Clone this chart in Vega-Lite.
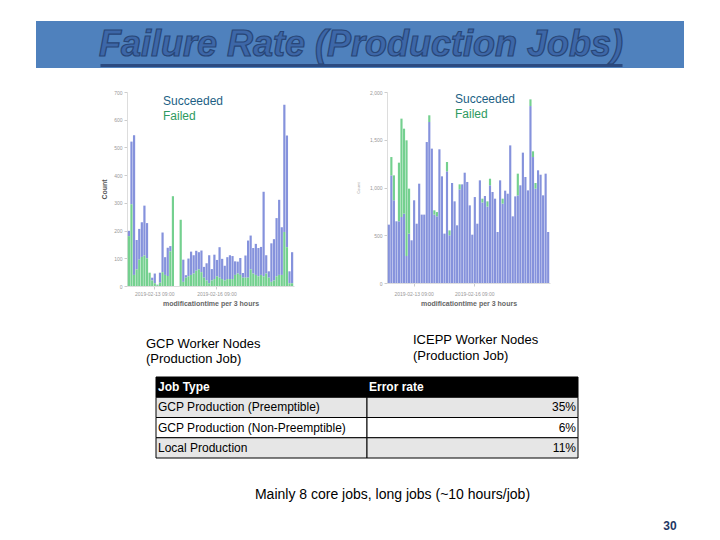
{
  "$schema": "https://vega.github.io/schema/vega-lite/v6.json",
  "background": "white",
  "padding": {"left": 36, "top": 21, "right": 0, "bottom": 0},
  "config": {
    "view": {"stroke": null},
    "font": "Liberation Sans",
    "title": {"font": "Liberation Sans", "fontWeight": "normal", "color": "black"},
    "axis": {"labelFont": "Liberation Sans", "titleFont": "Liberation Sans"}
  },
  "datasets": {
    "gcp": [
      {"time": "2019-02-12 03:00", "Succeeded": 19, "Failed": 180},
      {"time": "2019-02-12 06:00", "Succeeded": 226, "Failed": 295},
      {"time": "2019-02-12 09:00", "Succeeded": 504, "Failed": 40},
      {"time": "2019-02-12 12:00", "Succeeded": 106, "Failed": 60},
      {"time": "2019-02-12 15:00", "Succeeded": 111, "Failed": 95},
      {"time": "2019-02-12 18:00", "Succeeded": 125, "Failed": 105},
      {"time": "2019-02-12 21:00", "Succeeded": 180, "Failed": 110},
      {"time": "2019-02-13 00:00", "Succeeded": 127, "Failed": 100},
      {"time": "2019-02-13 03:00", "Succeeded": 0, "Failed": 48},
      {"time": "2019-02-13 06:00", "Succeeded": 10, "Failed": 20},
      {"time": "2019-02-13 09:00", "Succeeded": 35, "Failed": 10},
      {"time": "2019-02-13 12:00", "Succeeded": 2, "Failed": 3},
      {"time": "2019-02-13 15:00", "Succeeded": 36, "Failed": 12},
      {"time": "2019-02-13 18:00", "Succeeded": 143, "Failed": 50},
      {"time": "2019-02-13 21:00", "Succeeded": 64, "Failed": 40},
      {"time": "2019-02-14 00:00", "Succeeded": 102, "Failed": 36},
      {"time": "2019-02-14 03:00", "Succeeded": 19, "Failed": 125},
      {"time": "2019-02-14 06:00", "Succeeded": 0, "Failed": 324},
      {"time": "2019-02-14 09:00", "Succeeded": 0, "Failed": 0},
      {"time": "2019-02-14 12:00", "Succeeded": 0, "Failed": 0},
      {"time": "2019-02-14 15:00", "Succeeded": 0, "Failed": 239},
      {"time": "2019-02-14 18:00", "Succeeded": 80, "Failed": 15},
      {"time": "2019-02-14 21:00", "Succeeded": 9, "Failed": 30},
      {"time": "2019-02-15 00:00", "Succeeded": 64, "Failed": 35},
      {"time": "2019-02-15 03:00", "Succeeded": 84, "Failed": 40},
      {"time": "2019-02-15 06:00", "Succeeded": 66, "Failed": 45},
      {"time": "2019-02-15 09:00", "Succeeded": 72, "Failed": 55},
      {"time": "2019-02-15 12:00", "Succeeded": 62, "Failed": 60},
      {"time": "2019-02-15 15:00", "Succeeded": 78, "Failed": 50},
      {"time": "2019-02-15 18:00", "Succeeded": 39, "Failed": 30},
      {"time": "2019-02-15 21:00", "Succeeded": 62, "Failed": 20},
      {"time": "2019-02-16 00:00", "Succeeded": 101, "Failed": 10},
      {"time": "2019-02-16 03:00", "Succeeded": 41, "Failed": 20},
      {"time": "2019-02-16 06:00", "Succeeded": 88, "Failed": 25},
      {"time": "2019-02-16 09:00", "Succeeded": 59, "Failed": 35},
      {"time": "2019-02-16 12:00", "Succeeded": 110, "Failed": 30},
      {"time": "2019-02-16 15:00", "Succeeded": 73, "Failed": 25},
      {"time": "2019-02-16 18:00", "Succeeded": 53, "Failed": 20},
      {"time": "2019-02-16 21:00", "Succeeded": 79, "Failed": 25},
      {"time": "2019-02-17 00:00", "Succeeded": 86, "Failed": 25},
      {"time": "2019-02-17 03:00", "Succeeded": 83, "Failed": 25},
      {"time": "2019-02-17 06:00", "Succeeded": 49, "Failed": 40},
      {"time": "2019-02-17 09:00", "Succeeded": 43, "Failed": 45},
      {"time": "2019-02-17 12:00", "Succeeded": 61, "Failed": 40},
      {"time": "2019-02-17 15:00", "Succeeded": 17, "Failed": 30},
      {"time": "2019-02-17 18:00", "Succeeded": 80, "Failed": 30},
      {"time": "2019-02-17 21:00", "Succeeded": 134, "Failed": 30},
      {"time": "2019-02-18 00:00", "Succeeded": 122, "Failed": 60},
      {"time": "2019-02-18 03:00", "Succeeded": 92, "Failed": 45},
      {"time": "2019-02-18 06:00", "Succeeded": 112, "Failed": 40},
      {"time": "2019-02-18 09:00", "Succeeded": 102, "Failed": 35},
      {"time": "2019-02-18 12:00", "Succeeded": 101, "Failed": 40},
      {"time": "2019-02-18 15:00", "Succeeded": 305, "Failed": 35},
      {"time": "2019-02-18 18:00", "Succeeded": 66, "Failed": 45},
      {"time": "2019-02-18 21:00", "Succeeded": 23, "Failed": 30},
      {"time": "2019-02-19 00:00", "Succeeded": 139, "Failed": 15},
      {"time": "2019-02-19 03:00", "Succeeded": 149, "Failed": 20},
      {"time": "2019-02-19 06:00", "Succeeded": 210, "Failed": 35},
      {"time": "2019-02-19 09:00", "Succeeded": 271, "Failed": 40},
      {"time": "2019-02-19 12:00", "Succeeded": 172, "Failed": 40},
      {"time": "2019-02-19 15:00", "Succeeded": 459, "Failed": 195},
      {"time": "2019-02-19 18:00", "Succeeded": 403, "Failed": 140},
      {"time": "2019-02-19 21:00", "Succeeded": 43, "Failed": 10},
      {"time": "2019-02-20 00:00", "Succeeded": 112, "Failed": 10}
    ],
    "icepp": [
      {"time": "2019-02-12 03:00", "Succeeded": 611, "Failed": 0},
      {"time": "2019-02-12 06:00", "Succeeded": 1127, "Failed": 192},
      {"time": "2019-02-12 09:00", "Succeeded": 866, "Failed": 261},
      {"time": "2019-02-12 12:00", "Succeeded": 646, "Failed": 0},
      {"time": "2019-02-12 15:00", "Succeeded": 646, "Failed": 614},
      {"time": "2019-02-12 18:00", "Succeeded": 691, "Failed": 1030},
      {"time": "2019-02-12 21:00", "Succeeded": 726, "Failed": 890},
      {"time": "2019-02-13 00:00", "Succeeded": 283, "Failed": 1211},
      {"time": "2019-02-13 03:00", "Succeeded": 517, "Failed": 471},
      {"time": "2019-02-13 06:00", "Succeeded": 447, "Failed": 0},
      {"time": "2019-02-13 09:00", "Succeeded": 866, "Failed": 0},
      {"time": "2019-02-13 12:00", "Succeeded": 621, "Failed": 0},
      {"time": "2019-02-13 15:00", "Succeeded": 1040, "Failed": 0},
      {"time": "2019-02-13 18:00", "Succeeded": 716, "Failed": 0},
      {"time": "2019-02-13 21:00", "Succeeded": 716, "Failed": 0},
      {"time": "2019-02-14 00:00", "Succeeded": 1476, "Failed": 0},
      {"time": "2019-02-14 03:00", "Succeeded": 1686, "Failed": 70},
      {"time": "2019-02-14 06:00", "Succeeded": 1407, "Failed": 0},
      {"time": "2019-02-14 09:00", "Succeeded": 716, "Failed": 45},
      {"time": "2019-02-14 12:00", "Succeeded": 698, "Failed": 45},
      {"time": "2019-02-14 15:00", "Succeeded": 1400, "Failed": 0},
      {"time": "2019-02-14 18:00", "Succeeded": 1117, "Failed": 0},
      {"time": "2019-02-14 21:00", "Succeeded": 517, "Failed": 0},
      {"time": "2019-02-15 00:00", "Succeeded": 1169, "Failed": 98},
      {"time": "2019-02-15 03:00", "Succeeded": 500, "Failed": 51},
      {"time": "2019-02-15 06:00", "Succeeded": 1047, "Failed": 0},
      {"time": "2019-02-15 09:00", "Succeeded": 855, "Failed": 0},
      {"time": "2019-02-15 12:00", "Succeeded": 604, "Failed": 0},
      {"time": "2019-02-15 15:00", "Succeeded": 981, "Failed": 52},
      {"time": "2019-02-15 18:00", "Succeeded": 1033, "Failed": 0},
      {"time": "2019-02-15 21:00", "Succeeded": 1155, "Failed": 0},
      {"time": "2019-02-16 00:00", "Succeeded": 1058, "Failed": 0},
      {"time": "2019-02-16 03:00", "Succeeded": 813, "Failed": 0},
      {"time": "2019-02-16 06:00", "Succeeded": 506, "Failed": 0},
      {"time": "2019-02-16 09:00", "Succeeded": 900, "Failed": 0},
      {"time": "2019-02-16 12:00", "Succeeded": 621, "Failed": 0},
      {"time": "2019-02-16 15:00", "Succeeded": 1075, "Failed": 0},
      {"time": "2019-02-16 18:00", "Succeeded": 843, "Failed": 40},
      {"time": "2019-02-16 21:00", "Succeeded": 911, "Failed": 0},
      {"time": "2019-02-17 00:00", "Succeeded": 800, "Failed": 55},
      {"time": "2019-02-17 03:00", "Succeeded": 1023, "Failed": 69},
      {"time": "2019-02-17 06:00", "Succeeded": 953, "Failed": 0},
      {"time": "2019-02-17 09:00", "Succeeded": 883, "Failed": 0},
      {"time": "2019-02-17 12:00", "Succeeded": 534, "Failed": 0},
      {"time": "2019-02-17 15:00", "Succeeded": 1075, "Failed": 0},
      {"time": "2019-02-17 18:00", "Succeeded": 831, "Failed": 52},
      {"time": "2019-02-17 21:00", "Succeeded": 967, "Failed": 0},
      {"time": "2019-02-18 00:00", "Succeeded": 935, "Failed": 0},
      {"time": "2019-02-18 03:00", "Succeeded": 1441, "Failed": 0},
      {"time": "2019-02-18 06:00", "Succeeded": 698, "Failed": 0},
      {"time": "2019-02-18 09:00", "Succeeded": 907, "Failed": 0},
      {"time": "2019-02-18 12:00", "Succeeded": 918, "Failed": 227},
      {"time": "2019-02-18 15:00", "Succeeded": 1023, "Failed": 0},
      {"time": "2019-02-18 18:00", "Succeeded": 1365, "Failed": 0},
      {"time": "2019-02-18 21:00", "Succeeded": 1110, "Failed": 0},
      {"time": "2019-02-19 00:00", "Succeeded": 970, "Failed": 0},
      {"time": "2019-02-19 03:00", "Succeeded": 1853, "Failed": 70},
      {"time": "2019-02-19 06:00", "Succeeded": 1319, "Failed": 60},
      {"time": "2019-02-19 09:00", "Succeeded": 988, "Failed": 59},
      {"time": "2019-02-19 12:00", "Succeeded": 1180, "Failed": 0},
      {"time": "2019-02-19 15:00", "Succeeded": 1134, "Failed": 0},
      {"time": "2019-02-19 18:00", "Succeeded": 918, "Failed": 0},
      {"time": "2019-02-19 21:00", "Succeeded": 1145, "Failed": 0},
      {"time": "2019-02-20 00:00", "Succeeded": 534, "Failed": 0}
    ]
  },
  "spacing": 22,
  "vconcat": [
    {
      "width": 648,
      "height": 47,
      "view": {"fill": "#4f81bd", "stroke": null},
      "data": {"values": [{"heading": "Failure Rate (Production Jobs)"}]},
      "mark": {"type": "text", "font": "Liberation Sans", "fontSize": 36, "fontStyle": "italic", "fontWeight": "bold", "color": "#3d67a8", "stroke": "#284677", "strokeWidth": 1.2, "baseline": "alphabetic", "dy": 11},
      "encoding": {
        "x": {"field": "heading", "type": "nominal", "scale": {"type": "point", "range": [64, 586]},
          "axis": {"orient": "bottom", "offset": -3, "labels": false, "ticks": false, "title": null, "domainColor": "#2b4a80", "domainWidth": 3}},
        "text": {"field": "heading"}
      }
    },
    {
      "spacing": 10,
      "vconcat": [
        {
          "spacing": 62,
          "hconcat": [
            {"width": 2, "height": 1, "data": {"values": []}, "mark": "point"},
            {
              "width": 167,
              "height": 194,
              "data": {"name": "gcp"},
              "transform": [{"fold": ["Succeeded", "Failed"], "as": ["status", "count"]}],
              "mark": {"type": "bar"},
              "encoding": {
                "x": {"field": "time", "type": "ordinal", "sort": null,
                  "scale": {"paddingInner": 0.15, "paddingOuter": 0.3},
                  "axis": {"values": ["2019-02-13 09:00", "2019-02-16 09:00"], "labelAngle": 0, "labelFontSize": 5, "labelColor": "#999999", "tickSize": 3, "tickColor": "#cccccc", "domainColor": "#dddddd", "labelPadding": 2, "title": "modificationtime per 3 hours", "titleFontSize": 7, "titleColor": "#666666", "titleFontWeight": "bold", "titlePadding": 3}},
                "y": {"field": "count", "type": "quantitative", "stack": "zero", "scale": {"domain": [0, 700]},
                  "axis": {"values": [0, 100, 200, 300, 400, 500, 600, 700], "grid": false, "labelFontSize": 5, "labelColor": "#999999", "tickSize": 3, "tickColor": "#cccccc", "domainColor": "#dddddd", "labelPadding": 2, "title": "Count", "titleFontSize": 7, "titleColor": "#555555", "titleFontWeight": "bold", "titlePadding": 6}},
                "color": {"field": "status", "type": "nominal", "scale": {"domain": ["Succeeded", "Failed"], "range": ["#8592dc", "#74d08f"]},
                  "legend": {"orient": "none", "legendX": 24, "legendY": 3, "title": null, "symbolSize": 0, "symbolStrokeWidth": 0, "symbolOpacity": 0, "labelOffset": 0, "labelFontSize": 12, "labelFont": "Liberation Sans", "rowPadding": 3, "padding": 0, "labelLimit": 0, "direction": "vertical",
                    "encode": {"labels": {"update": {"fill": {"signal": "datum.value === 'Failed' ? '#2e9a60' : '#1d5f85'"}}}}}},
                "order": {"field": "status", "sort": "ascending"}
              },
              "title": {"text": ["GCP Worker Nodes", "(Production Job)"], "orient": "bottom", "anchor": "start", "frame": "group", "offset": 32, "dx": 19, "fontSize": 13, "lineHeight": 15}
            },
            {
              "width": 163,
              "height": 191,
              "data": {"name": "icepp"},
              "transform": [{"fold": ["Succeeded", "Failed"], "as": ["status", "count"]}],
              "mark": {"type": "bar"},
              "encoding": {
                "x": {"field": "time", "type": "ordinal", "sort": null,
                  "scale": {"paddingInner": 0.15, "paddingOuter": 0.3},
                  "axis": {"values": ["2019-02-13 09:00", "2019-02-16 09:00"], "labelAngle": 0, "labelFontSize": 5, "labelColor": "#999999", "tickSize": 3, "tickColor": "#cccccc", "domainColor": "#dddddd", "labelPadding": 5, "title": "modificationtime per 3 hours", "titleFontSize": 7, "titleColor": "#666666", "titleFontWeight": "bold", "titlePadding": 3}},
                "y": {"field": "count", "type": "quantitative", "stack": "zero", "scale": {"domain": [0, 2000]},
                  "axis": {"values": [0, 500, 1000, 1500, 2000], "format": ",.0f", "grid": false, "labelFontSize": 5, "labelColor": "#999999", "tickSize": 3, "tickColor": "#cccccc", "domainColor": "#dddddd", "labelPadding": 2, "title": "Count", "titleFontSize": 4, "titleColor": "#bbbbbb", "titlePadding": 9}},
                "color": {"field": "status", "type": "nominal", "scale": {"domain": ["Succeeded", "Failed"], "range": ["#8592dc", "#74d08f"]},
                  "legend": {"orient": "none", "legendX": 56, "legendY": 1, "title": null, "symbolSize": 0, "symbolStrokeWidth": 0, "symbolOpacity": 0, "labelOffset": 0, "labelFontSize": 12, "labelFont": "Liberation Sans", "rowPadding": 3, "padding": 0, "labelLimit": 0, "direction": "vertical",
                    "encode": {"labels": {"update": {"fill": {"signal": "datum.value === 'Failed' ? '#2e9a60' : '#1d5f85'"}}}}}},
                "order": {"field": "status", "sort": "descending"}
              },
              "title": {"text": ["ICEPP Worker Nodes", "(Production Job)"], "orient": "bottom", "anchor": "start", "frame": "group", "offset": 28, "dx": 26, "fontSize": 13, "lineHeight": 16}
            }
          ],
          "resolve": {"scale": {"color": "independent"}, "legend": {"color": "independent"}}
        },
        {
          "spacing": 0,
          "hconcat": [
            {"width": 119, "height": 1, "data": {"values": []}, "mark": "point"},
            {
              "width": 422,
              "height": 81,
              "data": {"values": [
                {"line": "Job Type", "column": "Job Type", "cell": "Job Type"},
                {"line": "Job Type", "column": "Error rate", "cell": "Error rate"},
                {"line": "GCP Production (Preemptible)", "column": "Job Type", "cell": "GCP Production (Preemptible)"},
                {"line": "GCP Production (Preemptible)", "column": "Error rate", "cell": "35%"},
                {"line": "GCP Production (Non-Preemptible)", "column": "Job Type", "cell": "GCP Production (Non-Preemptible)"},
                {"line": "GCP Production (Non-Preemptible)", "column": "Error rate", "cell": "6%"},
                {"line": "Local Production", "column": "Job Type", "cell": "Local Production"},
                {"line": "Local Production", "column": "Error rate", "cell": "11%"}
              ]},
              "encoding": {
                "y": {"field": "line", "type": "nominal", "scale": {"type": "band", "domain": ["Job Type", "GCP Production (Preemptible)", "GCP Production (Non-Preemptible)", "Local Production"], "paddingInner": 0, "paddingOuter": 0}, "axis": null}
              },
              "layer": [
                {
                  "mark": {"type": "rect", "stroke": "black", "strokeWidth": 1},
                  "encoding": {
                    "x": {"field": "column", "type": "nominal", "scale": {"type": "band", "domain": ["Job Type", "Error rate"], "paddingInner": 0, "paddingOuter": 0}, "axis": null},
                    "fill": {"condition": [{"test": "datum.line === 'Job Type'", "value": "black"}, {"test": "datum.line === 'GCP Production (Non-Preemptible)'", "value": "white"}], "value": "#e6e6e6"}
                  }
                },
                {
                  "transform": [{"filter": "datum.line === 'Job Type'"}],
                  "mark": {"type": "text", "align": "left", "dx": 2, "fontSize": 12, "fontWeight": "bold", "color": "white", "font": "Liberation Sans"},
                  "encoding": {
                    "x": {"field": "column", "type": "nominal", "bandPosition": 0, "scale": {"type": "band", "domain": ["Job Type", "Error rate"], "paddingInner": 0, "paddingOuter": 0}, "axis": null},
                    "text": {"field": "cell"}
                  }
                },
                {
                  "transform": [{"filter": "datum.line !== 'Job Type' && datum.column === 'Job Type'"}],
                  "mark": {"type": "text", "align": "left", "dx": 2, "fontSize": 12, "color": "black", "font": "Liberation Sans"},
                  "encoding": {
                    "x": {"field": "column", "type": "nominal", "bandPosition": 0, "scale": {"type": "band", "domain": ["Job Type", "Error rate"], "paddingInner": 0, "paddingOuter": 0}, "axis": null},
                    "text": {"field": "cell"}
                  }
                },
                {
                  "transform": [{"filter": "datum.line !== 'Job Type' && datum.column === 'Error rate'"}],
                  "mark": {"type": "text", "align": "right", "dx": -2, "fontSize": 12, "color": "black", "font": "Liberation Sans"},
                  "encoding": {
                    "x": {"field": "column", "type": "nominal", "bandPosition": 1, "scale": {"type": "band", "domain": ["Job Type", "Error rate"], "paddingInner": 0, "paddingOuter": 0}, "axis": null},
                    "text": {"field": "cell"}
                  }
                }
              ]
            }
          ]
        },
        {
          "spacing": 0,
          "hconcat": [
            {"width": 94, "height": 1, "data": {"values": []}, "mark": "point"},
            {
              "width": 525,
              "height": 51,
              "data": {"values": [{"note": "Mainly 8 core jobs, long jobs (~10 hours/job)"}]},
              "mark": {"type": "text", "fontSize": 14, "color": "black", "font": "Liberation Sans"},
              "encoding": {"text": {"field": "note"}}
            },
            {
              "width": 30,
              "height": 64,
              "data": {"values": [{"page": "30"}]},
              "mark": {"type": "text", "fontSize": 12, "fontWeight": "bold", "color": "#1f3864", "baseline": "bottom", "font": "Liberation Sans"},
              "encoding": {"text": {"field": "page"}, "y": {"value": "height"}}
            }
          ]
        }
      ]
    }
  ]
}
